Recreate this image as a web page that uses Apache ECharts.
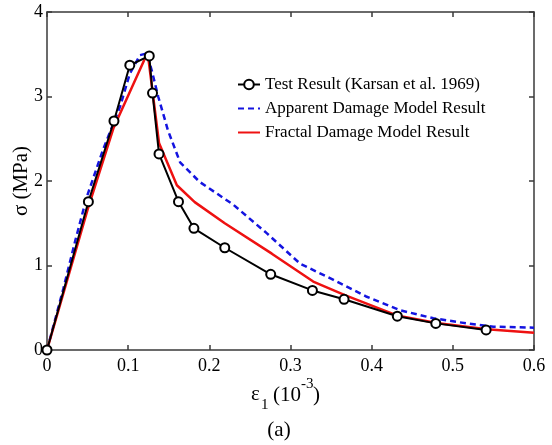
<!DOCTYPE html>
<html>
<head>
<meta charset="utf-8">
<script src="https://cdn.jsdelivr.net/npm/echarts@6/dist/echarts.min.js"></script>
<style>
html,body{margin:0;padding:0;background:#fff;}
#chart{width:552px;height:445px;}
</style>
</head>
<body>
<div id="chart"></div>
<script>
// Test Result (Karsan et al. 1969)
const testX = [0, 0.051, 0.0825, 0.102, 0.126, 0.130, 0.138, 0.162, 0.181, 0.219, 0.2756, 0.327, 0.366, 0.4316, 0.479, 0.541];
const testY = [0, 1.755, 2.71, 3.37, 3.48, 3.04, 2.32, 1.755, 1.44, 1.21, 0.896, 0.705, 0.60, 0.40, 0.315, 0.237];
// Apparent Damage Model Result
const appX = [0, 0.02, 0.035, 0.049, 0.069, 0.090, 0.102, 0.1146, 0.123, 0.129, 0.137, 0.149, 0.164, 0.188, 0.2295, 0.271, 0.312, 0.353, 0.394, 0.435, 0.476, 0.517, 0.55, 0.6];
const appY = [0, 0.72, 1.30, 1.81, 2.37, 2.88, 3.27, 3.49, 3.51, 3.31, 3.0, 2.60, 2.22, 1.99, 1.72, 1.38, 1.02, 0.83, 0.63, 0.47, 0.375, 0.315, 0.276, 0.264];
// Fractal Damage Model Result
const fraX = [0, 0.05, 0.0817, 0.124, 0.138, 0.160, 0.182, 0.219, 0.277, 0.328, 0.367, 0.431, 0.480, 0.542, 0.6];
const fraY = [0, 1.66, 2.62, 3.52, 2.45, 1.95, 1.75, 1.50, 1.14, 0.81, 0.65, 0.41, 0.32, 0.245, 0.205];

const seriesNames = ['Test Result (Karsan et al. 1969)', 'Apparent Damage Model Result', 'Fractal Damage Model Result'];
const xTicks = { min: 0, max: 0.6, interval: 0.1 };
const yTicks = { min: 0, max: 4, interval: 1 };

const zip = (xs, ys) => xs.map((x, i) => [x, ys[i]]);
const FONT = '"Liberation Serif", "Times New Roman", serif';
const axisLineStyle = { color: '#3a3a3a', width: 1.5 };

const chart = echarts.init(document.getElementById('chart'), null, { renderer: 'canvas' });
chart.setOption({
  animation: false,
  backgroundColor: '#fff',
  grid: { left: 47, right: 18, top: 12, bottom: 95, containLabel: false },
  legend: {
    orient: 'vertical',
    left: 237,
    top: 76,
    padding: 0,
    itemWidth: 22,
    itemHeight: 12,
    itemGap: 7,
    data: [
      { name: seriesNames[0] },
      { name: seriesNames[1], itemStyle: { opacity: 0 } },
      { name: seriesNames[2], itemStyle: { opacity: 0 } }
    ],
    textStyle: { fontFamily: FONT, fontSize: 17, color: '#000', lineHeight: 17 }
  },
  xAxis: [
    {
      type: 'value', position: 'bottom', min: xTicks.min, max: xTicks.max, interval: xTicks.interval,
      axisLine: { show: true, onZero: false, lineStyle: axisLineStyle },
      axisTick: { show: true, inside: true, length: 5, lineStyle: axisLineStyle },
      axisLabel: { fontFamily: FONT, fontSize: 18, color: '#000', margin: 7 },
      splitLine: { show: false }
    },
    {
      type: 'value', position: 'top', min: xTicks.min, max: xTicks.max, interval: xTicks.interval,
      axisLine: { show: true, onZero: false, lineStyle: axisLineStyle },
      axisTick: { show: true, inside: true, length: 5, lineStyle: axisLineStyle },
      axisLabel: { show: false },
      splitLine: { show: false }
    }
  ],
  yAxis: [
    {
      type: 'value', position: 'left', min: yTicks.min, max: yTicks.max, interval: yTicks.interval,
      axisLine: { show: true, onZero: false, lineStyle: axisLineStyle },
      axisTick: { show: true, inside: true, length: 5, lineStyle: axisLineStyle },
      axisLabel: { fontFamily: FONT, fontSize: 18, color: '#000', margin: 4 },
      splitLine: { show: false }
    },
    {
      type: 'value', position: 'right', min: yTicks.min, max: yTicks.max, interval: yTicks.interval,
      axisLine: { show: true, onZero: false, lineStyle: axisLineStyle },
      axisTick: { show: true, inside: true, length: 5, lineStyle: axisLineStyle },
      axisLabel: { show: false },
      splitLine: { show: false }
    }
  ],
  series: [
    {
      name: seriesNames[0], type: 'line', data: zip(testX, testY), z: 4,
      symbol: 'emptyCircle', symbolSize: 9, showAllSymbol: true,
      color: '#000',
      lineStyle: { color: '#000', width: 2 },
      itemStyle: { color: '#000', borderColor: '#000', borderWidth: 2 }
    },
    {
      name: seriesNames[1], type: 'line', data: zip(appX, appY), z: 3,
      symbol: 'none', showSymbol: false,
      color: '#1414e0',
      lineStyle: { color: '#1414e0', width: 2.5, type: [6, 4] }
    },
    {
      name: seriesNames[2], type: 'line', data: zip(fraX, fraY), z: 3,
      symbol: 'none', showSymbol: false,
      color: '#ee1111',
      lineStyle: { color: '#ee1111', width: 2.5 }
    }
  ],
  graphic: [
    { type: 'text', x: 21, y: 181, rotation: Math.PI / 2,
      style: { text: 'σ (MPa)', fontFamily: FONT, fontSize: 21, fill: '#000', textAlign: 'center', textVerticalAlign: 'middle' } },
    { type: 'text', x: 251, y: 394, style: { text: 'ε', fontFamily: FONT, fontSize: 21, fill: '#000', textAlign: 'left', textVerticalAlign: 'middle' } },
    { type: 'text', x: 261, y: 405, style: { text: '1', fontFamily: FONT, fontSize: 15, fill: '#000', textAlign: 'left', textVerticalAlign: 'middle' } },
    { type: 'text', x: 273, y: 395, style: { text: '(10', fontFamily: FONT, fontSize: 21, fill: '#000', textAlign: 'left', textVerticalAlign: 'middle' } },
    { type: 'text', x: 301, y: 384, style: { text: '-3', fontFamily: FONT, fontSize: 15, fill: '#000', textAlign: 'left', textVerticalAlign: 'middle' } },
    { type: 'text', x: 313, y: 395, style: { text: ')', fontFamily: FONT, fontSize: 21, fill: '#000', textAlign: 'left', textVerticalAlign: 'middle' } },
    { type: 'text', x: 279, y: 430, style: { text: '(a)', fontFamily: FONT, fontSize: 21, fill: '#000', textAlign: 'center', textVerticalAlign: 'middle' } }
  ]
});
</script>
</body>
</html>
